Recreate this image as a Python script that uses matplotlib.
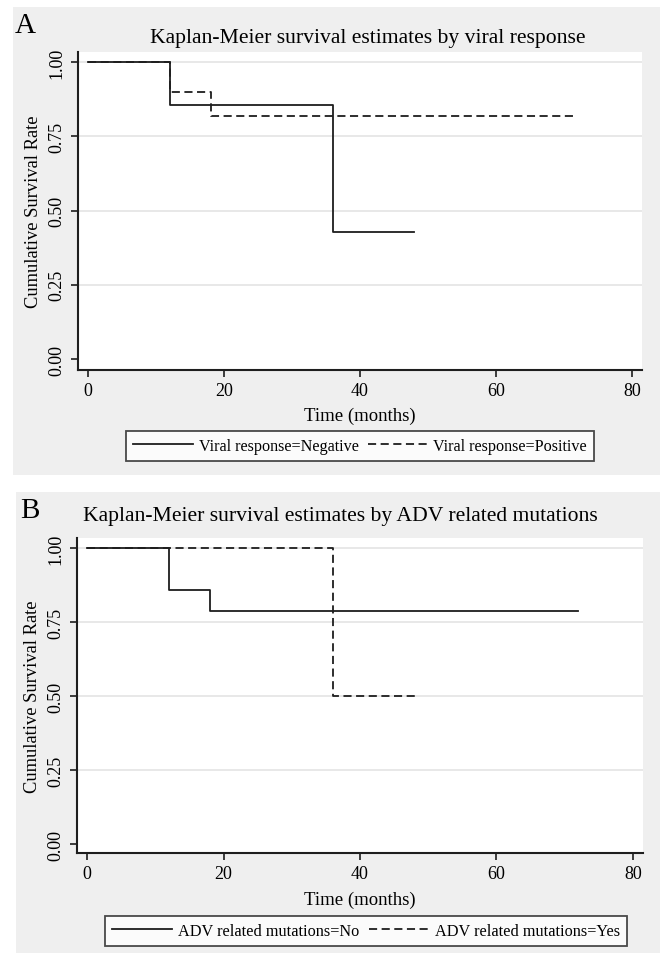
import matplotlib
matplotlib.use("Agg")
import matplotlib.pyplot as plt
from matplotlib.patches import Rectangle
from matplotlib.lines import Line2D

plt.rcParams['font.family'] = ['Liberation Serif', 'DejaVu Serif']

# ---- data ----
a_title = "Kaplan-Meier survival estimates by viral response"
a_labels = ["Viral response=Negative", "Viral response=Positive"]
a_neg_t = [0, 12, 36, 48]
a_neg_s = [1.0, 0.857, 0.429, 0.429]
a_pos_t = [0, 12, 18, 72]
a_pos_s = [1.0, 0.9, 0.818, 0.818]

b_title = "Kaplan-Meier survival estimates by ADV related mutations"
b_labels = ["ADV related mutations=No", "ADV related mutations=Yes"]
b_no_t = [0, 12, 18, 72]
b_no_s = [1.0, 0.857, 0.786, 0.786]
b_yes_t = [0, 36, 48]
b_yes_s = [1.0, 0.5, 0.5]

x_ticks = [0, 20, 40, 60, 80]
y_ticks = [0.0, 0.25, 0.5, 0.75, 1.0]
y_ticklabels = ["0.00", "0.25", "0.50", "0.75", "1.00"]
x_label = "Time (months)"
y_label = "Cumulative Survival Rate"

W, H = 660, 954
fig = plt.figure(figsize=(W / 100, H / 100), dpi=100)
fig.patch.set_facecolor('white')

def fx(x):
    return x / W

def fy(y):
    return 1 - y / H

BG = '#efefef'
LINE = '#1e1e1e'
DASH = (4.5, 2.5)

def panel(grey, box, ylim, series, labels, title, title_xy, letter, letter_xy,
          xlabel_y, legend_xy, leg_fs):
    gx0, gy0, gx1, gy1 = grey
    fig.patches.append(Rectangle((fx(gx0), fy(gy1)), fx(gx1 - gx0), (gy1 - gy0) / H,
                                 transform=fig.transFigure, facecolor=BG,
                                 edgecolor='none', zorder=-10))
    l, t, r, b = box
    ax = fig.add_axes([fx(l), fy(b), fx(r - l), (b - t) / H])
    ax.set_zorder(2)
    ax.set_facecolor('white')
    for yv in [0.25, 0.5, 0.75, 1.0]:
        ax.axhline(yv, color='#e6e6e6', lw=1.3, zorder=1)
    (t1, s1), (t2, s2) = series
    ln2, = ax.step(t2, s2, where='post', color=LINE, lw=1.3, zorder=3)
    ln2.set_dashes(DASH)
    ln1, = ax.step(t1, s1, where='post', color=LINE, lw=1.3, zorder=4)
    ax.set_xlim(-1.5, 81.5)
    ax.set_ylim(*ylim)
    ax.set_xticks(x_ticks)
    ax.set_xticklabels([str(v) for v in x_ticks], fontsize=13)
    ax.set_yticks(y_ticks)
    ax.set_yticklabels(y_ticklabels, fontsize=13, rotation=90, va='center')
    ax.tick_params(axis='both', direction='out', length=5, width=1.2, color=LINE,
                   pad=4)
    ax.spines['top'].set_visible(False)
    ax.spines['right'].set_visible(False)
    for s in ['left', 'bottom']:
        ax.spines[s].set_color(LINE)
        ax.spines[s].set_linewidth(1.5)
    ax.set_ylabel(y_label, fontsize=13.3, labelpad=5)
    fig.text(fx((l + r) / 2), fy(xlabel_y), x_label, ha='center', va='center',
             fontsize=13.5)
    fig.text(fx(title_xy[0]), fy(title_xy[1]), title, ha='center', va='center',
             fontsize=15.6)
    fig.text(fx(letter_xy[0]), fy(letter_xy[1]), letter, ha='center', va='center',
             fontsize=21)
    h1 = Line2D([], [], color=LINE, lw=1.3)
    h2 = Line2D([], [], color=LINE, lw=1.3)
    h2.set_dashes(DASH)
    leg = fig.legend([h1, h2], labels, loc='center',
                     bbox_to_anchor=(fx(legend_xy[0]), fy(legend_xy[1])),
                     ncol=2, fontsize=leg_fs, frameon=True, fancybox=False,
                     edgecolor=LINE, handlelength=3.7, columnspacing=0.55,
                     handletextpad=0.38, borderpad=0.45, borderaxespad=0)
    leg.get_frame().set_linewidth(1.3)
    leg.get_frame().set_facecolor('white')
    leg.set_zorder(5)
    return ax

panel(grey=(13, 8, 660, 476), box=(78, 53, 642, 371), ylim=(-0.037, 1.034),
      series=((a_neg_t, a_neg_s), (a_pos_t, a_pos_s)), labels=a_labels,
      title=a_title, title_xy=(368, 38), letter="A", letter_xy=(25, 26),
      xlabel_y=416, legend_xy=(360, 447), leg_fs=11.6)

panel(grey=(16, 493, 660, 954), box=(77, 539, 643, 854), ylim=(-0.0304, 1.0338),
      series=((b_no_t, b_no_s), (b_yes_t, b_yes_s)), labels=b_labels,
      title=b_title, title_xy=(340, 517), letter="B", letter_xy=(30, 511),
      xlabel_y=900, legend_xy=(366, 932), leg_fs=11.7)

fig.savefig("out.png", dpi=100)
